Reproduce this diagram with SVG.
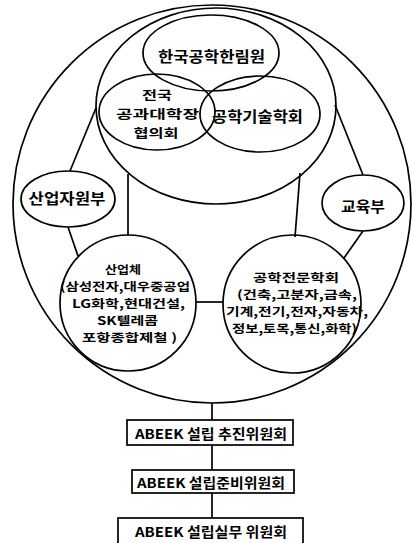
<svg xmlns="http://www.w3.org/2000/svg" width="412" height="543" viewBox="0 0 412 543">
<style>
.s{fill:none;stroke:#000;stroke-width:1.7}
.b{fill:#fff;stroke:#000;stroke-width:1.7}
.t{font-family:"Noto Sans CJK KR","Noto Sans",sans-serif;font-weight:bold;font-size:15px;fill:#000;text-anchor:middle;dominant-baseline:central}
.m{font-size:11.5px}
.k{font-size:13.5px}
.d{font-size:12.5px}
</style>
<rect width="412" height="543" fill="#fff"/>
<g id="connectors" class="s">
<line x1="96" y1="108" x2="70" y2="171"/>
<line x1="68" y1="227" x2="78" y2="256"/>
<line x1="128" y1="174" x2="128" y2="235"/>
<line x1="300" y1="173" x2="295" y2="237"/>
<line x1="335" y1="105" x2="363" y2="175"/>
<line x1="363" y1="231" x2="344" y2="258"/>
<line x1="196" y1="302" x2="223" y2="302"/>
<line x1="212" y1="403" x2="212" y2="420"/>
<line x1="212" y1="445" x2="212" y2="470"/>
<line x1="212" y1="493" x2="212" y2="518"/>
</g>
<g id="outer"><circle class="s" cx="212" cy="204" r="199"/></g>
<g id="inner"><ellipse class="s" cx="216" cy="106" rx="120" ry="98"/></g>
<g id="n_hanlim"><ellipse class="s" cx="211" cy="53" rx="68" ry="38"/><text class="t" x="211.5" y="55" textLength="107" lengthAdjust="spacingAndGlyphs">한국공학한림원</text></g>
<g id="n_deans"><ellipse class="s" cx="157" cy="112" rx="58" ry="38"/><text class="t d" x="157" y="94.5" textLength="30" lengthAdjust="spacingAndGlyphs">전국</text><text class="t d" x="157.5" y="113.5" textLength="83" lengthAdjust="spacingAndGlyphs">공과대학장</text><text class="t d" x="156" y="132.5" textLength="45" lengthAdjust="spacingAndGlyphs">협의회</text></g>
<g id="n_tech"><ellipse class="s" cx="260" cy="114" rx="60" ry="38"/><text class="t" x="257.5" y="115" textLength="91" lengthAdjust="spacingAndGlyphs">공학기술학회</text></g>
<g id="n_mocie"><ellipse class="s" cx="68" cy="199" rx="47" ry="28"/><text class="t" x="67" y="197" textLength="77" lengthAdjust="spacingAndGlyphs">산업자원부</text></g>
<g id="n_moe"><ellipse class="s" cx="363" cy="203" rx="41" ry="28"/><text class="t" x="363" y="205" textLength="44" lengthAdjust="spacingAndGlyphs">교육부</text></g>
<g id="n_industry"><circle class="s" cx="128" cy="303" r="68"/>
<text class="t m" x="123" y="269" textLength="36" lengthAdjust="spacingAndGlyphs">산업체</text>
<text class="t m" x="125" y="286" textLength="130" lengthAdjust="spacingAndGlyphs">(삼성전자,대우중공업</text>
<text class="t m" x="128.5" y="303" textLength="113" lengthAdjust="spacingAndGlyphs">LG화학,현대건설,</text>
<text class="t m" x="127.5" y="320" textLength="61" lengthAdjust="spacingAndGlyphs">SK텔레콤</text>
<text class="t m" x="129.5" y="337" textLength="95" lengthAdjust="spacingAndGlyphs">포항종합제철 )</text>
</g>
<g id="n_societies"><circle class="s" cx="292" cy="304" r="69"/>
<text class="t m" x="296" y="277" textLength="86" lengthAdjust="spacingAndGlyphs">공학전문학회</text>
<text class="t m" x="297" y="294" textLength="120" lengthAdjust="spacingAndGlyphs">(건축,고분자,금속,</text>
<text class="t m" x="297" y="311" textLength="142" lengthAdjust="spacingAndGlyphs">기계,전기,전자,자동차,</text>
<text class="t m" x="294.5" y="328" textLength="125" lengthAdjust="spacingAndGlyphs">정보,토목,통신,화학)</text>
</g>
<g id="n_box1"><rect class="b" x="127" y="420" width="166" height="25"/><text class="t k" x="211" y="433" textLength="152" lengthAdjust="spacingAndGlyphs">ABEEK 설립 추진위원회</text></g>
<g id="n_box2"><rect class="b" x="132" y="470" width="162" height="23"/><text class="t k" x="211" y="482" textLength="148" lengthAdjust="spacingAndGlyphs">ABEEK 설립준비위원회</text></g>
<g id="n_box3"><rect class="b" x="118" y="518" width="185" height="30"/><text class="t k" x="211" y="531" textLength="152" lengthAdjust="spacingAndGlyphs">ABEEK 설립실무 위원회</text></g>
</svg>
